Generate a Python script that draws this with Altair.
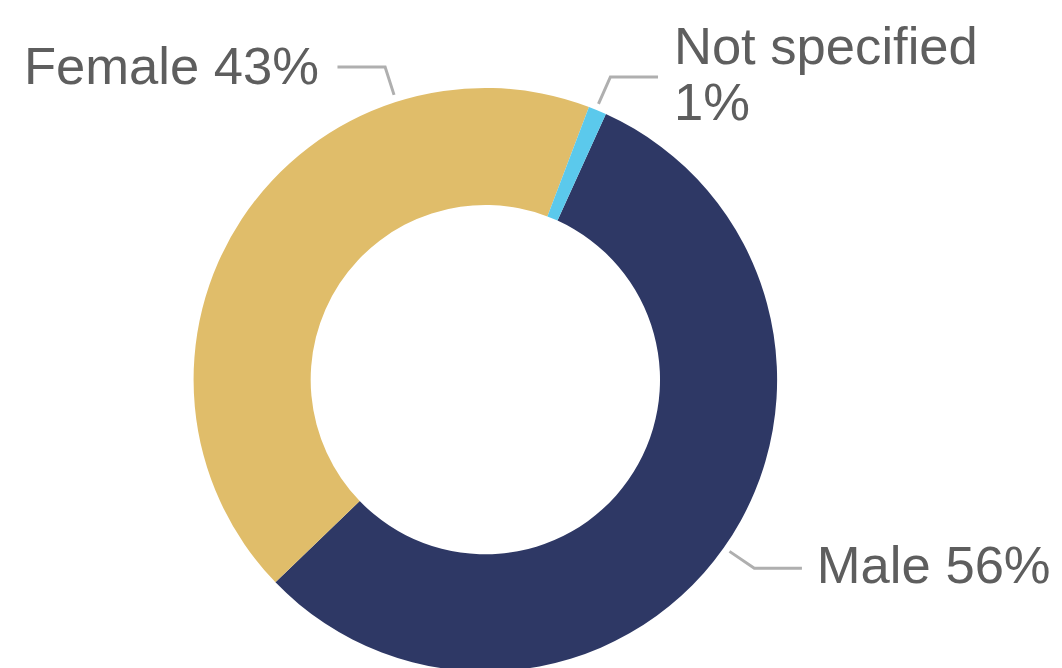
import math
import altair as alt
import pandas as pd

# ---- data ----
categories = ["Male", "Female", "Not specified"]
shares = [56, 43, 1]
label_lines = [["Male 56%"], ["Female 43%"], ["Not specified", "1%"]]
colors = ["#2E3865", "#E0BD6A", "#5BC9EC"]

# ---- layout (pixels inside the chart) ----
W, H = 1054, 660
CX, CY = 481, 372
R_OUT, R_IN = 294, 176
START = math.radians(24.4)

label_pos = {  # text anchor (left, baseline)
    "Male": (815, 577),
    "Female": (16, 74),
    "Not specified": (671, 54),
}
leader_pts = {
    "Male": [(727, 545), (752, 562), (800, 562)],
    "Female": [(332, 57), (380, 57), (389, 85)],
    "Not specified": [(595, 94), (607, 67), (655, 67)],
}

df = pd.DataFrame({"category": categories, "share": shares, "idx": range(len(categories))})

labels = pd.DataFrame({
    "category": categories,
    "text": label_lines,
    "x": [label_pos[c][0] for c in categories],
    "y": [label_pos[c][1] for c in categories],
})

rows = []
for c in categories:
    for i, (px, py) in enumerate(leader_pts[c]):
        rows.append({"category": c, "i": i, "x": px, "y": py})
leaders = pd.DataFrame(rows)

arcs = alt.Chart(df).mark_arc(innerRadius=R_IN, outerRadius=R_OUT).encode(
    x=alt.value(CX),
    y=alt.value(CY),
    theta=alt.Theta("share:Q", stack=True,
                    scale=alt.Scale(range=[START, START + 2 * math.pi])),
    order=alt.Order("idx:Q"),
    color=alt.Color("category:N",
                    scale=alt.Scale(domain=categories, range=colors),
                    legend=None),
)

lines = alt.Chart(leaders).mark_line(color="#AFAFAF", strokeWidth=3).encode(
    x=alt.X("x:Q", scale=None),
    y=alt.Y("y:Q", scale=None),
    detail="category:N",
    order="i:Q",
)

texts = alt.Chart(labels).mark_text(
    align="left", baseline="alphabetic", font="Liberation Sans",
    fontSize=53, color="#5E5E5E", lineHeight=56,
).encode(
    x=alt.X("x:Q", scale=None),
    y=alt.Y("y:Q", scale=None),
    text="text",
)

chart = alt.layer(arcs, lines, texts).properties(
    width=W, height=H, padding=0,
    autosize=alt.AutoSizeParams(type="none"),
).configure_view(stroke=None)

chart.save("out.html", embed_options={"renderer": "svg", "actions": False})
